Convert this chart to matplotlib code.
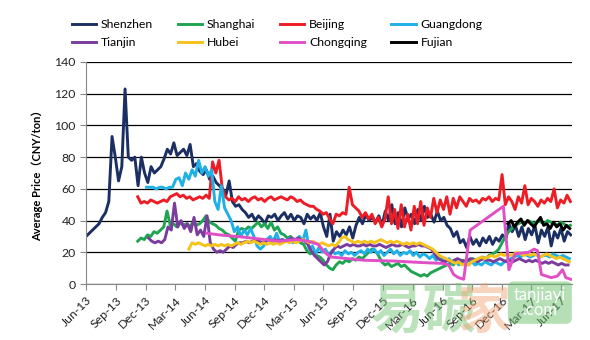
import matplotlib
matplotlib.use("Agg")
import matplotlib.pyplot as plt
import matplotlib.dates as mdates
import pandas as pd

plt.rcParams['font.family'] = ['Lato', 'Noto Sans CJK SC', 'DejaVu Sans']

# --- data (10-day samples) ---
shenzhen_start = "2013-06-01"
shenzhen = [30, 32, 34, 36, 38, 42, 45, 52, 93, 80, 65, 74, 123, 80, 78, 80, 62, 80, 70, 64,
            74, 70, 72, 74, 79, 85, 82, 89, 81, 83, 85, 81, 88, 74, 76, 71, 69, 72, 66, 68,
            64, 62, 60, 56, 65, 52, 49, 50, 47, 45, 42, 44, 40, 43, 41, 38, 43, 42, 44, 40,
            43, 45, 41, 44, 40, 43, 42, 38, 44, 41, 43, 40, 45, 36, 30, 44, 27, 33, 30, 34,
            31, 36, 29, 37, 42, 38, 44, 40, 42, 39, 43, 37, 46, 40, 50, 38, 45, 36, 48, 41,
            44, 38, 47, 40, 49, 42, 44, 39, 46, 40, 42, 37, 35, 30, 33, 26, 28, 23, 30, 25,
            28, 24, 29, 26, 30, 25, 29, 27, 31, 28, 38, 33, 37, 30, 36, 28, 35, 31, 37, 26,
            34, 30, 36, 24, 33, 29, 35, 27, 33, 31]

beijing_start = "2013-11-07"
beijing = [55, 51, 52, 51, 53, 52, 51, 52, 53, 52, 55, 56, 57, 55, 56, 54, 55, 53, 54, 55,
           54, 56, 54, 77, 70, 78, 60, 55, 53, 54, 52, 55, 53, 54, 52, 54, 55, 53, 54, 52,
           54, 55, 53, 54, 55, 54, 53, 55, 54, 52, 53, 51, 50, 49, 49, 47, 46, 44, 45, 41,
           38, 44, 43, 45, 44, 61, 50, 48, 46, 42, 45, 41, 44, 38, 42, 36, 41, 55, 38, 47,
           35, 50, 36, 44, 34, 49, 38, 52, 37, 48, 42, 54, 45, 53, 47, 55, 44, 54, 48, 55,
           52, 49, 54, 52, 53, 51, 54, 53, 55, 52, 54, 53, 69, 50, 55, 52, 47, 55, 51, 62,
           50, 54, 52, 49, 53, 51, 54, 52, 60, 48, 53, 51, 56, 52]

guangdong_start = "2013-12-04"
guangdong = [61, 61, 61, 60, 61, 61, 60, 61, 61, 66, 67, 62, 70, 66, 72, 68, 78, 70, 74, 68,
             72, 52, 47, 62, 48, 44, 40, 33, 36, 30, 34, 31, 35, 30, 24, 22, 24, 28, 30, 27,
             32, 26, 28, 27, 29, 26, 28, 30, 27, 34, 22, 24, 19, 23, 20, 22, 18, 21, 19, 20,
             18, 21, 19, 20, 18, 20, 21, 19, 22, 20, 22, 19, 21, 18, 20, 22, 19, 21, 18, 20,
             19, 21, 18, 20, 17, 19, 18, 16, 18, 15, 17, 16, 14, 16, 13, 15, 12, 14, 13, 12,
             14, 12, 13, 12, 14, 13, 12, 14, 13, 12, 14, 15, 16, 17, 18, 17, 19, 18, 17, 18,
             19, 17, 18, 18, 17, 19, 18, 17, 18, 17, 16]

shanghai_start = "2013-11-07"
shanghai = [27, 29, 28, 31, 30, 33, 32, 34, 36, 46, 37, 38, 36, 39, 37, 38, 36, 39, 37, 38,
            40, 43, 39, 38, 37, 35, 34, 32, 31, 29, 27, 34, 35, 34, 36, 35, 37, 39, 36, 38,
            35, 39, 34, 36, 32, 31, 29, 30, 27, 28, 26, 25, 21, 19, 20, 18, 17, 15, 12, 10,
            9, 12, 14, 13, 15, 14, 16, 15, 17, 16, 18, 20, 22, 21, 18, 14, 12, 13, 11, 12,
            13, 11, 12, 10, 8, 7, 6, 5, 6, 5, 7, 8, 9, 10, 11, 12, 13, 12, 14, 13,
            15, 14, 15, 16, 15, 16, 17, 16, 18, 19, 20, 22, 26, 30, 33, 35, 37, 38, 39, 38,
            40, 39, 38, 40, 39, 38, 40, 39, 38, 37, 39, 38, 36, 37]

tianjin_start = "2013-12-10"
tianjin = [29, 27, 26, 27, 26, 28, 36, 34, 51, 36, 40, 35, 38, 33, 42, 31, 34, 30, 43, 26,
           22, 20, 21, 20, 22, 24, 23, 25, 26, 26, 27, 26, 27, 28, 27, 26, 27, 28, 27, 28,
           27, 28, 27, 28, 29, 28, 29, 28, 27, 25, 21, 18, 16, 14, 12, 14, 19, 22, 24, 23,
           24, 25, 24, 25, 24, 24, 25, 24, 25, 24, 24, 25, 24, 23, 24, 25, 24, 24, 25, 24,
           23, 24, 24, 25, 24, 24, 23, 22, 19, 16, 15, 14, 15, 14, 15, 16, 15, 14, 15, 16,
           15, 14, 15, 16, 15, 15, 14, 15, 16, 15, 14, 15, 14, 15, 16, 15, 14, 15, 14, 15,
           14, 13, 14, 13, 14, 13, 12, 13, 12, 12]

hubei_start = "2014-04-13"
hubei = [22, 26, 25, 26, 25, 24, 25, 24, 25, 24, 25, 24, 25, 24, 25, 26, 25, 26, 27, 26,
         27, 26, 25, 26, 25, 26, 25, 26, 25, 26, 27, 26, 27, 26, 27, 28, 27, 26, 27, 26,
         25, 26, 25, 24, 25, 24, 26, 29, 30, 28, 27, 26, 27, 26, 27, 26, 27, 26, 27, 28,
         27, 26, 27, 26, 27, 26, 25, 26, 25, 26, 25, 26, 25, 24, 23, 22, 20, 18, 17, 16,
         15, 14, 13, 14, 12, 13, 12, 14, 15, 16, 17, 16, 17, 18, 17, 18, 19, 18, 19, 18,
         19, 20, 19, 18, 19, 18, 19, 18, 17, 18, 19, 18, 17, 16, 17, 16, 15, 14]

chongqing_dates = ["2014-06-07", "2014-07-15", "2014-10-01", "2015-01-15", "2015-03-10",
                   "2015-04-15", "2015-05-15", "2015-06-10", "2015-06-25", "2015-08-15",
                   "2015-10-01", "2016-01-01", "2016-04-01", "2016-06-01", "2016-06-20",
                   "2016-07-05", "2016-07-20", "2016-08-05", "2016-08-25", "2016-12-05",
                   "2016-12-22", "2017-01-10", "2017-02-20", "2017-03-10", "2017-03-20",
                   "2017-04-01", "2017-05-01", "2017-05-20", "2017-06-05", "2017-06-15",
                   "2017-06-30"]
chongqing = [32, 31, 29.5, 27, 28, 27, 25, 19, 17, 16, 15, 14.5, 13.5, 13, 12, 6, 4, 3, 34, 49,
             9, 19, 20, 22, 21, 6, 4, 5, 9, 4, 3]

fujian_start = "2016-12-19"
fujian = [38, 40, 36, 39, 41, 37, 40, 38, 36, 39, 42, 37, 38, 35, 39, 36, 38, 34, 37, 35]

names = ["Shenzhen", "Shanghai", "Beijing", "Guangdong", "Tianjin", "Hubei", "Chongqing", "Fujian"]
colors = ["#1c2f63", "#1fa552", "#ee1c25", "#1fb0e6", "#7a3d9e", "#f6c21c", "#e04fc6", "#000000"]

def series(start, vals):
    return pd.date_range(start, periods=len(vals), freq="10D"), vals

data = [
    series(shenzhen_start, shenzhen),
    series(shanghai_start, shanghai),
    series(beijing_start, beijing),
    series(guangdong_start, guangdong),
    series(tianjin_start, tianjin),
    series(hubei_start, hubei),
    (pd.to_datetime(chongqing_dates), chongqing),
    series(fujian_start, fujian),
]

fig = plt.figure(figsize=(5.9, 3.4), dpi=100)
ax = fig.add_axes([0.1458, 0.1647, 0.8237, 0.653])

lines = []
for (x, y), name, c in zip(data, names, colors):
    ln, = ax.plot(x, y, color=c, lw=2.1, label=name, solid_joinstyle="round")
    lines.append(ln)

ax.set_ylim(0, 140)
ax.set_yticks(range(0, 141, 20))
ax.set_xlim(pd.Timestamp("2013-06-01"), pd.Timestamp("2017-07-04"))
ax.set_xticks(pd.date_range("2013-06-01", "2017-06-01", freq="3MS"))
ax.xaxis.set_major_formatter(mdates.DateFormatter("%b-%y"))
for lbl in ax.get_xticklabels():
    lbl.set_rotation(45)
    lbl.set_ha("right")
    lbl.set_rotation_mode("anchor")

ax.grid(axis="y", color="black", lw=0.9)
ax.set_axisbelow(True)
for s in ["top", "right"]:
    ax.spines[s].set_visible(False)
for s in ["left", "bottom"]:
    ax.spines[s].set_color("#888888")
ax.tick_params(axis="both", colors="#888888", labelcolor="#222222", labelsize=8.8, length=4)

ax.set_ylabel("Average Price（CNY/ton）", fontsize=8, fontweight="bold",
              family=["Lato", "Noto Sans CJK SC"], labelpad=8)

# legend filled row by row (matplotlib fills columns first)
order = [0, 4, 1, 5, 2, 6, 3, 7]
fig.legend([lines[i] for i in order], [names[i] for i in order],
           loc="upper left", bbox_to_anchor=(0.103, 0.975), ncol=4, frameon=False,
           fontsize=8.8, handlelength=2.0, columnspacing=2.0, handletextpad=0.4,
           labelspacing=0.55)

# watermark
fig.text(0.628, 0.035, "易碳", fontsize=38, color="#6cc06c", alpha=0.45,
         family=["Noto Sans CJK SC"], fontweight="bold")
fig.text(0.775, 0.035, "家", fontsize=38, color="#f0a070", alpha=0.45,
         family=["Noto Sans CJK SC"], fontweight="bold")
fig.text(0.915, 0.11, "tanjiayi\n.com", fontsize=12, color="white", ha="center", va="center",
         linespacing=0.9,
         bbox=dict(boxstyle="round,pad=0.35", fc="#6cc06c", ec="none", alpha=0.5))

fig.savefig("out.png", dpi=100)
